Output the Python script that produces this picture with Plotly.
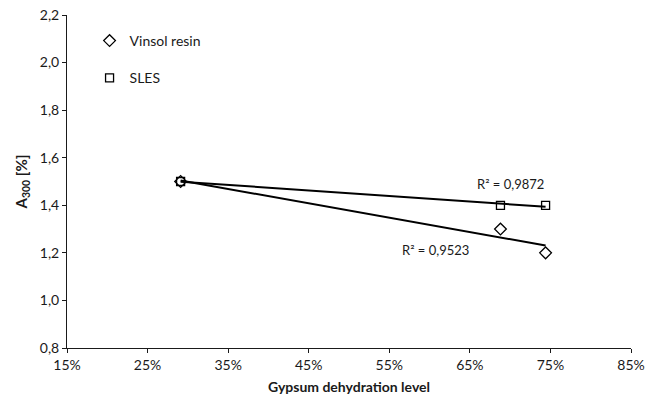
import numpy as np
import plotly.graph_objects as go

# Dehydration level (fraction) and A300 air content [%]
dehydration = [0.291, 0.688, 0.744]
vinsol_resin = [1.5, 1.3, 1.2]
sles = [1.5, 1.4, 1.4]

series_names = ["Vinsol resin", "SLES"]
r2_labels = ["R² = 0,9523", "R² = 0,9872"]

x_ticks = [0.15, 0.25, 0.35, 0.45, 0.55, 0.65, 0.75, 0.85]
y_ticks = [0.8, 1.0, 1.2, 1.4, 1.6, 1.8, 2.0, 2.2]

FONT = "Lato"
INK = "#1a1a1a"

fig = go.Figure()

symbols = ["diamond-open", "square-open"]
sizes = [9, 8]
label_pos = [(0.607, 1.213), (0.700, 1.491)]

for i, (name, ys) in enumerate(zip(series_names, [vinsol_resin, sles])):
    # linear trend line across the measured range
    slope, icpt = np.polyfit(dehydration, ys, 1)
    xs = [min(dehydration), max(dehydration)]
    fig.add_trace(go.Scatter(
        x=xs, y=[slope * v + icpt for v in xs], mode="lines",
        line=dict(color="black", width=2), showlegend=False, hoverinfo="skip"))
    fig.add_trace(go.Scatter(
        x=dehydration, y=ys, mode="markers", name=name,
        legendgroup=name,
        marker=dict(symbol=symbols[i], size=sizes[i], color="black",
                    line=dict(width=1.3, color="black"))))
    lx, ly = label_pos[i]
    fig.add_annotation(x=lx, y=ly, xref="x", yref="y", text=r2_labels[i],
                       showarrow=False, xanchor="center", yanchor="middle",
                       font=dict(family=FONT, size=13, color=INK))

axis_common = dict(showline=True, linecolor=INK, linewidth=1, ticks="outside",
                   ticklen=4, tickcolor=INK, showgrid=False, zeroline=False,
                   automargin=False,
                   tickfont=dict(family=FONT, size=14, color=INK))

fig.update_layout(
    width=656, height=401,
    margin=dict(l=67, r=25, t=15, b=53),
    paper_bgcolor="white", plot_bgcolor="white",
    separators=", ",
    font=dict(family=FONT, color=INK),
    xaxis=dict(range=[0.15, 0.85], tickvals=x_ticks, tickformat=".0%",
               title=dict(text="<b>Gypsum dehydration level</b>", standoff=10,
                          font=dict(family=FONT, size=14, color=INK)),
               **axis_common),
    yaxis=dict(range=[0.8, 2.2], tickvals=y_ticks, tickformat=".1f",
               title=dict(text="<b>A<sub>300</sub> [%]</b>", standoff=8,
                          font=dict(family=FONT, size=15, color=INK)),
               **axis_common),
    legend=dict(x=0.04, y=0.97, xanchor="left", yanchor="top",
                bgcolor="rgba(0,0,0,0)", traceorder="grouped",
                tracegroupgap=16, itemwidth=30,
                font=dict(family=FONT, size=14, color=INK)),
)

fig.write_html("out.html")
